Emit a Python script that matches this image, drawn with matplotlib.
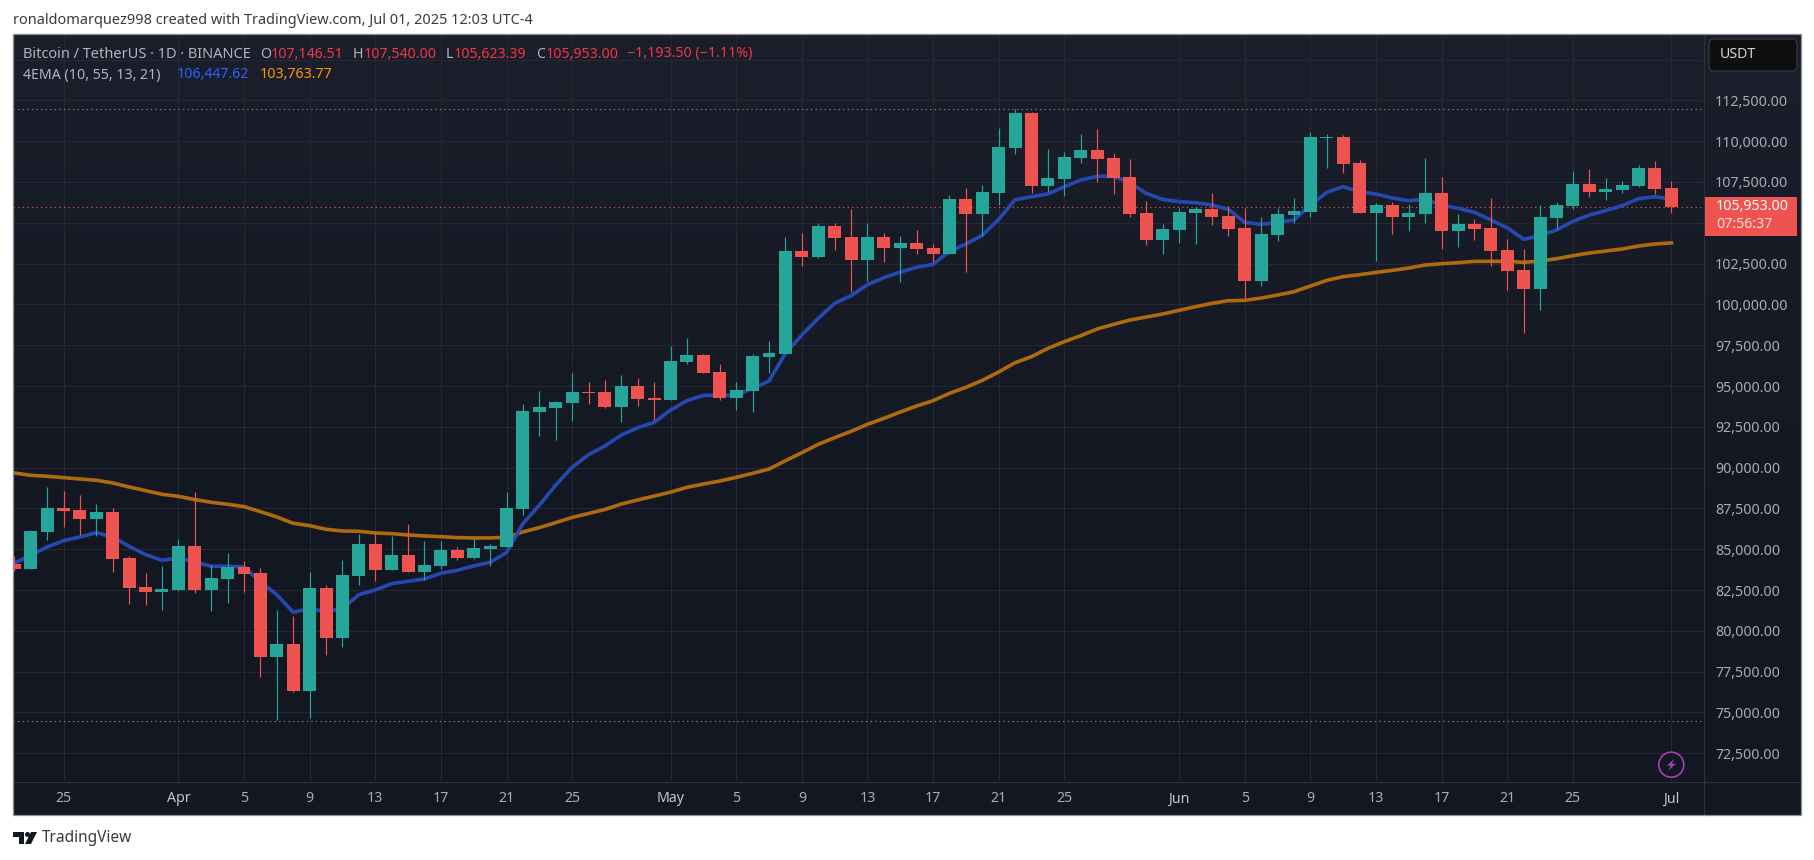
import matplotlib
matplotlib.use("Agg")
import matplotlib.pyplot as plt
import numpy as np
import pandas as pd
from matplotlib.colors import LinearSegmentedColormap
from matplotlib.lines import Line2D
from matplotlib.patches import Circle, FancyBboxPatch, Polygon, Rectangle
from matplotlib.transforms import Affine2D

W, H = 1814, 860
plt.rcParams["font.family"] = ["Noto Sans", "DejaVu Sans"]

dates = pd.date_range("2025-03-22", "2025-07-01")

opens = [
    84079, 83793, 86059, 87509, 87387, 86835, 87264, 84446, 82670, 82384,
    82486, 85181, 82486, 83160, 83895, 83527, 78402, 79178, 76319, 82609,
    79566, 83364, 85304, 83732, 84630, 83589, 83956, 84936, 84446, 84998,
    85120, 87448, 93407, 93652, 93958, 94633, 94633, 93713, 94980, 94265,
    94143, 96470, 96899, 95858, 94265, 94694, 96777, 96960, 103270, 102903,
    104802, 104128, 102719, 104128, 103454, 103760, 103454, 103086, 106456, 105537,
    106823, 109580, 111724, 107252, 107681, 108967, 109457, 108967, 107803, 105598,
    103944, 104557, 105598, 105843, 105414, 104679, 101432, 104250, 105475, 105659,
    110192, 110254, 108661, 105598, 106088, 105353, 105537, 106823, 104495, 104924,
    104679, 103331, 102106, 100942, 105292, 106027, 107374, 106885, 107007, 107252,
    108355, 107146.51,
]
highs = [
    84569, 86162, 88796, 88551, 88306, 87754, 87509, 84610, 83527, 83956,
    85610, 88490, 84018, 84753, 84263, 83834, 81261, 80914, 83589, 82792,
    84324, 85917, 86059, 85794, 86529, 85488, 85488, 85120, 85672, 85304,
    88490, 93897, 94693, 94080, 95797, 95245, 95368, 95674, 95490, 95245,
    97450, 97940, 96960, 96347, 95245, 96960, 97757, 104128, 104373, 104986,
    104986, 105843, 104986, 104373, 104189, 104557, 103699, 106701, 107129, 107313,
    110805, 111969, 111785, 109519, 109335, 110438, 110744, 109274, 108906, 106333,
    104924, 105904, 105965, 106823, 106027, 105904, 105353, 105904, 106517, 110560,
    110438, 110376, 108845, 106211, 106272, 106149, 108967, 107803, 105537, 105230,
    106517, 104005, 103393, 106088, 106272, 108171, 108293, 107742, 107558, 108539,
    108784, 107540.00,
]
lows = [
    83670, 83793, 85569, 86345, 85855, 85815, 83589, 81649, 81588, 81281,
    82445, 82323, 81220, 81710, 82384, 77177, 74522, 76258, 74645, 78525,
    79015, 82792, 83037, 83711, 83589, 83099, 83773, 84324, 84385, 83956,
    85120, 87080, 91937, 91691, 92856, 93897, 93652, 92795, 93775, 92917,
    94143, 96347, 95797, 94143, 93530, 93407, 95797, 96960, 102351, 102841,
    103331, 100758, 101432, 102597, 101371, 103086, 102597, 103086, 101984, 104189,
    106088, 109212, 106823, 106885, 106640, 108661, 107497, 106762, 105353, 103638,
    103086, 103760, 103699, 104863, 104189, 100391, 101126, 103883, 104985, 105353,
    108355, 108048, 105598, 102658, 104312, 104495, 104985, 103393, 103515, 103944,
    102351, 100881, 98247, 99656, 104618, 105843, 106578, 106394, 106823, 107191,
    106762, 105623.39,
]
closes = [
    83793, 86100, 87509, 87325, 86835, 87264, 84406, 82629, 82384, 82547,
    85181, 82486, 83221, 83895, 83466, 78402, 79178, 76319, 82609, 79566,
    83405, 85304, 83732, 84630, 83589, 84018, 84936, 84446, 85059, 85181,
    87509, 93468, 93713, 94019, 94633, 94572, 93713, 94980, 94204, 94143,
    96531, 96899, 95797, 94265, 94755, 96838, 97022, 103270, 102903, 104802,
    104067, 102719, 104128, 103454, 103760, 103393, 103086, 106456, 105537, 106884,
    109641, 111724, 107252, 107742, 109029, 109457, 108906, 107742, 105537, 103944,
    104618, 105659, 105843, 105353, 104618, 101432, 104312, 105537, 105720, 110254,
    110254, 108600, 105598, 106088, 105353, 105598, 106823, 104495, 104924, 104618,
    103270, 102045, 100942, 105353, 106088, 107374, 106885, 107068, 107313, 108355,
    107068, 105953.00,
]
ema_blue = [
    84160, 84630, 85140, 85529, 85753, 86018, 85753, 85181, 84671, 84324,
    84467, 84222, 83956, 83956, 83916, 83000, 82220, 81138, 81363, 81179,
    81363, 82220, 82507, 82894, 83037, 83180, 83527, 83711, 83977, 84201,
    84794, 86570, 87693, 88935, 90018, 90793, 91325, 91999, 92448, 92775,
    93530, 94102, 94428, 94428, 94428, 94857, 95306, 97001, 98124, 99145,
    100064, 100534, 101208, 101637, 101984, 102270, 102453, 103250, 103699, 104230,
    105210, 106415, 106599, 106762, 107211, 107620, 107844, 107844, 107456, 106803,
    106435, 106292, 106231, 106088, 105823, 105026, 104904, 105026, 105169, 106088,
    106864, 107211, 106905, 106762, 106517, 106354, 106435, 106088, 105884, 105639,
    105169, 104699, 103985, 104209, 104557, 105087, 105475, 105741, 106047, 106476,
    106599, 106447.62,
]
ema_orange = [
    89674, 89531, 89470, 89388, 89306, 89225, 89061, 88816, 88592, 88367,
    88244, 88040, 87877, 87754, 87611, 87305, 86978, 86590, 86447, 86223,
    86121, 86100, 85998, 85957, 85876, 85815, 85773, 85712, 85692, 85692,
    85733, 86059, 86325, 86631, 86950, 87190, 87440, 87770, 88020, 88260,
    88500, 88792, 88996, 89180, 89405, 89650, 89915, 90423, 90916, 91426,
    91835, 92223, 92652, 93019, 93407, 93775, 94102, 94551, 94918, 95347,
    95858, 96430, 96797, 97307, 97716, 98083, 98492, 98778, 99043, 99227,
    99411, 99636, 99860, 100064, 100228, 100248, 100391, 100575, 100779, 101126,
    101473, 101698, 101820, 101963, 102086, 102229, 102413, 102494, 102555, 102637,
    102637, 102637, 102576, 102657, 102800, 102984, 103147, 103270, 103393, 103576,
    103699, 103763.77,
]

tick_dates = [
    "2025-03-25", "2025-04-01", "2025-04-05", "2025-04-09", "2025-04-13", "2025-04-17",
    "2025-04-21", "2025-04-25", "2025-05-01", "2025-05-05", "2025-05-09", "2025-05-13",
    "2025-05-17", "2025-05-21", "2025-05-25", "2025-06-01", "2025-06-05", "2025-06-09",
    "2025-06-13", "2025-06-17", "2025-06-21", "2025-06-25", "2025-07-01",
]
tick_labels = [
    "25", "Apr", "5", "9", "13", "17", "21", "25", "May", "5", "9", "13", "17", "21",
    "25", "Jun", "5", "9", "13", "17", "21", "25", "Jul",
]
price_ticks = np.arange(72500, 115001, 2500)
hidden_price_labels = [105000, 115000]
high_line = 111969
low_line = 74500
last_price = 105953.00

GREEN = "#26a69a"
RED = "#ef5350"
GRID = "#252934"
TEXT = "#b2b5be"

px = Affine2D().scale(1, -1).translate(0, H)


def add_axes_px(fig, left, top, right, bottom):
    return fig.add_axes([left / W, 1 - bottom / H, (right - left) / W, (bottom - top) / H])


fig = plt.figure(figsize=(W / 100, H / 100), dpi=100, facecolor="white")

# dark panel, slightly lighter towards the top
bg = add_axes_px(fig, 13, 34, 1801, 815)
cmap = LinearSegmentedColormap.from_list("panel", ["#1b1f2b", "#171b26", "#131722", "#131722"])
bg.imshow(np.linspace(0, 1, 256)[:, None], aspect="auto", cmap=cmap, interpolation="bilinear")
bg.axis("off")

ax = add_axes_px(fig, 13, 34, 1704, 781)
ax.patch.set_alpha(0)
x = np.arange(len(dates))
ax.set_xlim(-0.08, 102.99)
ax.set_ylim(70803, 116565)

o, h, l, c = map(np.array, (opens, highs, lows, closes))
colors = np.where(c >= o, GREEN, RED)

ax.plot(x, ema_orange, color="#ae6b0e", lw=2.6, zorder=2, solid_joinstyle="round")
ax.plot(x, ema_blue, color="#2549b0", lw=2.6, zorder=2, solid_joinstyle="round")
ax.axhline(high_line, color="#8a8d96", lw=0.75, ls=(0, (1.2, 3.2)), zorder=1.5)
ax.axhline(low_line, color="#8a8d96", lw=0.75, ls=(0, (1.2, 3.2)), zorder=1.5)
ax.axhline(last_price, color=RED, lw=0.75, ls=(0, (1.2, 3.2)), zorder=1.5)
ax.vlines(x, l, h, colors=colors, lw=0.85, zorder=3)
ax.bar(x, np.abs(c - o), bottom=np.minimum(o, c), width=0.79, color=colors, zorder=4)

tick_x = [dates.get_loc(pd.Timestamp(d)) for d in tick_dates]
ax.set_xticks(tick_x, tick_labels)
ax.set_yticks(price_ticks, ["" if p in hidden_price_labels else f"{p:,.2f}" for p in price_ticks])
ax.yaxis.tick_right()
ax.grid(True, color=GRID, lw=0.8, zorder=0)
ax.set_axisbelow(True)
ax.tick_params(axis="both", length=0, labelcolor="#a9acb4", labelsize=10.2)
ax.tick_params(axis="x", pad=7.5)
ax.tick_params(axis="y", pad=8)
for lab in ax.get_yticklabels():
    lab.set_ha("left")
for lab, name in zip(ax.get_xticklabels(), tick_labels):
    if name in ("Apr", "May", "Jun", "Jul"):
        lab.set_fontweight("bold")
        lab.set_color("#c4c7ce")
for s in ax.spines.values():
    s.set_visible(False)

# frame and axis separators
fig.add_artist(Rectangle((12.5, 34), 1788.5, 781, fc="none", ec="#8b8e96", lw=0.9, transform=px, zorder=5))
fig.add_artist(Line2D([1704, 1704], [34, 815], color="#2e323d", lw=0.8, transform=px))
fig.add_artist(Line2D([13, 1801], [781.5, 781.5], color="#2e323d", lw=0.8, transform=px))

# header texts
fig.text(13, 20, "ronaldomarquez998 created with TradingView.com, Jul 01, 2025 12:03 UTC-4",
         transform=px, fontsize=10.45, color="#3a3a3a", va="center")
fig.text(23, 54, "Bitcoin / TetherUS · 1D · BINANCE", transform=px, fontsize=10.5, color=TEXT, va="center")
for lx, letter, vx, val in [
    (260, "O", 271, "107,146.51"),
    (353, "H", 364, "107,540.00"),
    (446, "L", 454, "105,623.39"),
    (536, "C", 546, "105,953.00"),
]:
    fig.text(lx, 54, letter, transform=px, fontsize=10.2, color=TEXT, va="center")
    fig.text(vx, 54, val, transform=px, fontsize=10.2, color="#f23645", va="center")
fig.text(627, 54, "−1,193.50 (−1.11%)", transform=px, fontsize=10.2, color="#f23645", va="center")
fig.text(23, 75, "4EMA (10, 55, 13, 21)", transform=px, fontsize=10.2, color=TEXT, va="center")
fig.text(177, 75, "106,447.62", transform=px, fontsize=10.2, color="#2962ff", va="center")
fig.text(260, 75, "103,763.77", transform=px, fontsize=10.2, color="#ff9800", va="center")

# currency button
fig.add_artist(FancyBboxPatch((1709, 39), 88, 32, boxstyle="round,pad=0,rounding_size=5",
                              fc="#0f0f0f", ec="#363a45", lw=0.9, transform=px))
fig.text(1720, 55, "USDT", transform=px, fontsize=10.2, color="#d1d4dc", va="center")

# last price tag
fig.add_artist(Rectangle((1705, 197), 92, 39, fc=RED, ec="none", transform=px, zorder=6))
fig.text(1716, 207, "105,953.00", transform=px, fontsize=10.2, color="white", va="center", zorder=7)
fig.text(1716, 225, "07:56:37", transform=px, fontsize=10.2, color="#fbdcdb", va="center", zorder=7)

# lightning badge
cx, cy = 1671.3, 764.7
fig.add_artist(Circle((cx, cy), 12.5, fc="#131722", ec="#a63fb8", lw=1.2, transform=px, zorder=6))
bolt = [(3, -6), (-4.5, 1), (-0.5, 1), (-3, 6), (4.5, -1), (0.5, -1)]
fig.add_artist(Polygon([(cx + a, cy + b) for a, b in bolt], fc="#a63fb8", ec="none", transform=px, zorder=7))

# footer logo
fig.add_artist(Polygon([(13, 832), (24, 832), (24, 844), (18.5, 844), (18.5, 837), (13, 837)],
                       fc="#131722", ec="none", transform=px))
fig.add_artist(Circle((27.5, 834.5), 2.5, fc="#131722", ec="none", transform=px))
fig.add_artist(Polygon([(31, 832), (37, 832), (31, 844), (25, 844)], fc="#131722", ec="none", transform=px))
fig.text(42, 838.5, "TradingView", transform=px, fontsize=11.1, color="#3a3a3a", va="center")

fig.savefig("out.png", dpi=100)
